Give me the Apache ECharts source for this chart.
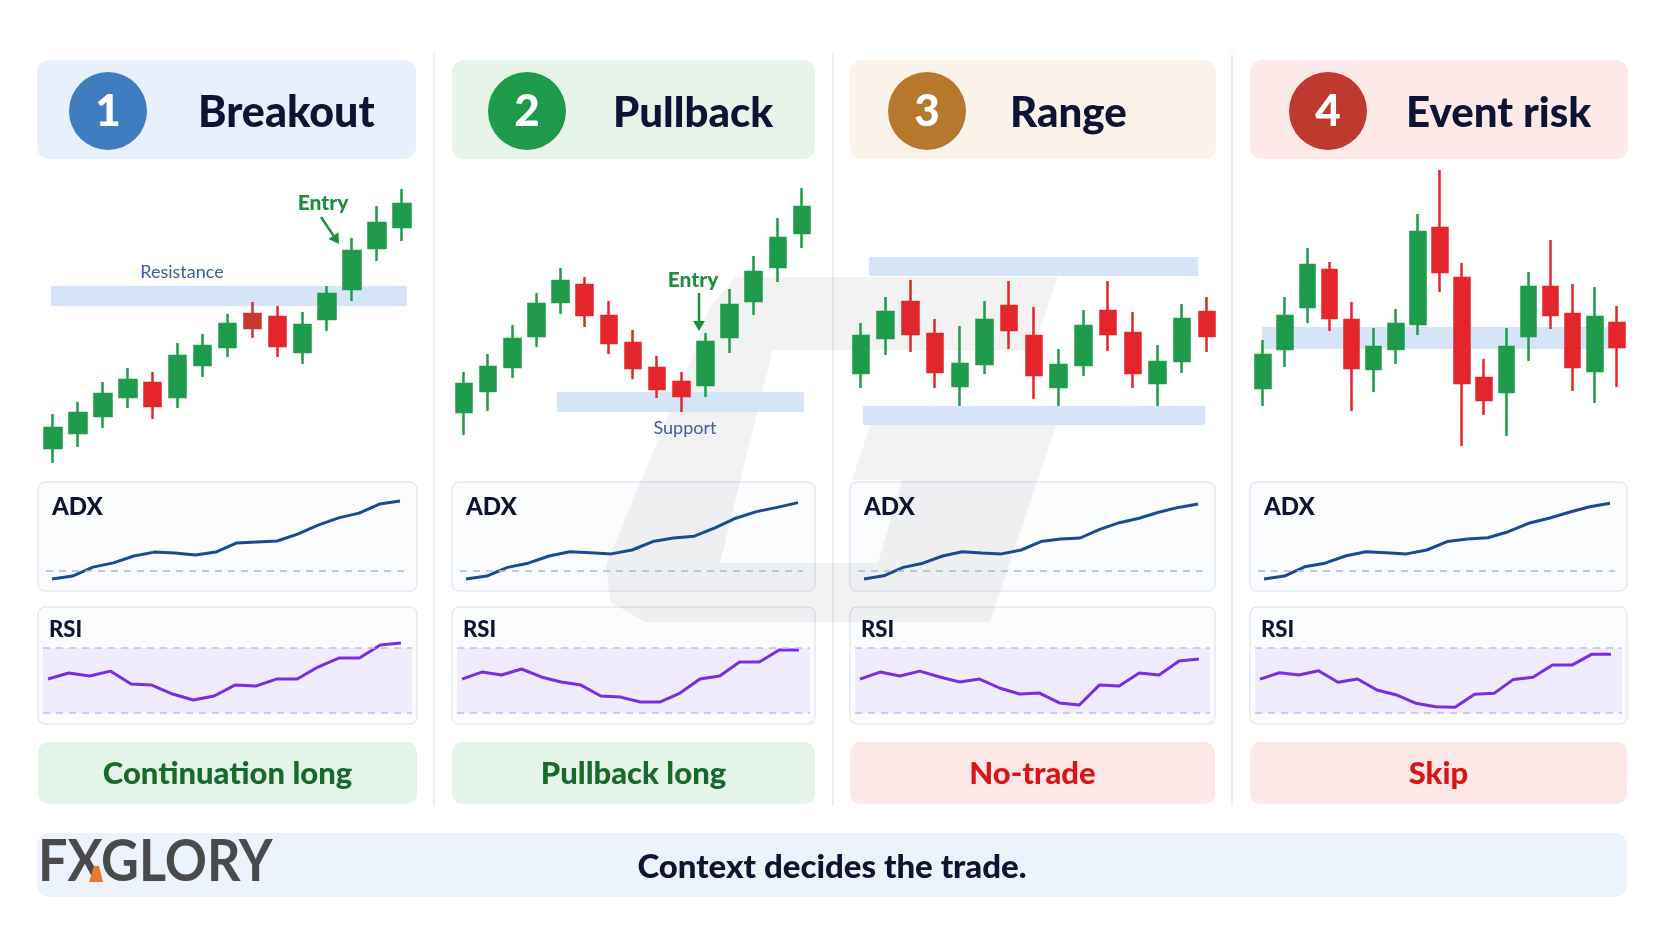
<!DOCTYPE html>
<html><head><meta charset="utf-8">
<script src="https://cdn.jsdelivr.net/npm/echarts@6/dist/echarts.min.js"></script>
<style>html,body{margin:0;padding:0;background:#fff}#c{width:1664px;height:928px}</style>
</head><body><div id="c"></div>
<script>
// ---------- DATA ----------
const panelNumbers = ['1', '2', '3', '4'];
const panelTitles = ['Breakout', 'Pullback', 'Range', 'Event risk'];
const verdicts = ['Continuation long', 'Pullback long', 'No-trade', 'Skip'];
const footerText = 'Context decides the trade.';
const brandText = 'FXGLORY';

// candles: [open, close, low, high]
const breakoutCandles = [
  [22,42,7,56],[37,57,23,68],[54,76,42,88],[73,90,62,102],[87,64,51,98],
  [73,114,62,127],[105,124,93,136],[123,146,113,156],[156,142,132,168],[153,124,113,164],
  [118,145,106,158],[151,176,139,184],[181,219,169,232],[222,247,209,264],[243,266,229,281]
];
const pullbackCandles = [
  [58,86,35,98],[79,103,59,116],[103,131,92,145],[134,166,123,177],[168,189,156,202],
  [185,155,143,193],[154,127,116,169],[127,102,91,140],[102,81,72,114],[88,74,58,98],
  [85,128,73,137],[133,165,117,181],[169,198,155,214],[203,232,188,252],[237,263,222,282]
];
const rangeCandles = [
  [97,134,82,147],[132,158,115,173],[168,136,118,190],[136,98,82,151],[84,106,64,144],
  [106,150,96,169],[164,140,121,189],[134,95,71,163],[83,105,64,121],[105,144,94,160],
  [159,136,119,189],[137,97,82,158],[87,108,64,125],[109,151,97,166],[158,134,118,173]
];
const eventCandles = [
  [82,115,64,130],[121,154,103,173],[163,205,147,222],[200,152,139,208],[150,102,59,168],
  [101,123,78,142],[121,146,106,161],[146,238,135,256],[242,198,178,300],[192,87,24,207],
  [92,70,55,111],[78,123,34,142],[134,183,109,198],[183,155,141,230],[156,103,79,186],
  [99,153,67,183],[147,123,83,164]
];
// zones: [fromIndex, toIndex, low, high]
const breakoutZones = [[-0.08, 14.2, 164, 184]];
const pullbackZones = [[3.85, 14.08, 58, 78]];
const rangeZones = [[0.33, 13.65, 194, 213], [0.08, 13.93, 45, 64]];
const eventZones = [[-0.05, 16.29, 121, 143]];

const adxBreakout = [22.3,23.3,26.3,27.7,30,31.3,31,30.3,31.3,34.3,34.7,35,37.3,40.3,42.7,44.3,47.3,48.3];
const adxPullback = [22.3,23.3,26.2,27.6,30,31.4,31.1,30.7,32,34.8,36,36.6,39.4,42.6,44.8,46.2,47.8];
const adxRange = [22.3,23.4,26.2,27.6,30,31.4,31,30.7,32,34.8,35.7,36,38.9,41.1,42.6,44.6,46.2,47.3];
const adxEvent = [22.3,23.3,26.4,27.6,30,31.4,31.1,30.7,32,34.8,35.7,36.1,38.1,40.9,42.6,44.6,46.4,47.6];

const rsiBreakout = [50.9,54.6,52.8,55.8,47.8,47.2,41.7,38,40.5,47.2,46.6,50.9,50.9,58.3,63.8,63.8,71.8,73.1];
const rsiPullback = [50.9,55.2,53.4,57.1,52.2,49.1,47.2,40.5,39.8,36.8,36.8,42.3,50.9,52.8,61.4,61.4,68.8,68.8];
const rsiRange = [50.9,55.2,52.8,55.8,52.2,49.1,50.9,45.4,41.7,42.3,36.2,34.9,47.2,46.6,54.6,53.4,62,63.2];
const rsiEvent = [50.9,54.8,53.4,56,48.9,50.9,44.2,41.1,36,33.9,33.5,41.5,42.1,50.7,52,59.5,59.5,66.1,66.1];

const adxThreshold = 25;
const rsiLevels = [30, 70];

// ---------- LAYOUT / STYLE ----------
const FONT = 'Lato, "Noto Sans", sans-serif';
const GREEN = '#1f9b4c', RED = '#e3262b';
const layout = [
  {L:38, R:417, hL:37, hR:416, cx:108, tx:198, ts:43, cl:40.5, cw:374, bw:17, hFill:'#e8f1fb', cFill:'#3f7cc0', vFill:'#e5f4e9', vColor:'#17692c', special:{8:'#c43a30'}},
  {L:452, R:815, hL:452, hR:815, cx:527, tx:613, ts:42, cl:452, cw:362, bw:16, hFill:'#e6f4ea', cFill:'#1e9a4b', vFill:'#e5f4e9', vColor:'#17692c'},
  {L:850, R:1215, hL:850, hR:1216, cx:927, tx:1010, ts:42, cl:848.6, cw:370.7, bw:16, hFill:'#fbf3ea', cFill:'#b5782c', vFill:'#fde8e8', vColor:'#d81414'},
  {L:1250, R:1627, hL:1250, hR:1628, cx:1328, tx:1406, ts:42, cl:1252, cw:376, bw:15, hFill:'#fce9e8', cFill:'#c0392f', vFill:'#fde8e8', vColor:'#d81414'}
];
const candleSets = [breakoutCandles, pullbackCandles, rangeCandles, eventCandles];
const zoneSets = [breakoutZones, pullbackZones, rangeZones, eventZones];
const adxSets = [adxBreakout, adxPullback, adxRange, adxEvent];
const rsiSets = [rsiBreakout, rsiPullback, rsiRange, rsiEvent];

const grids = [], xAxes = [], yAxes = [], series = [], graphics = [];

[434, 833, 1232].forEach(x => graphics.push({type:'line', shape:{x1:x, y1:53, x2:x, y2:806}, style:{stroke:'#e4e8ef', lineWidth:1.5}, z:0}));

layout.forEach((p, i) => {
  graphics.push({type:'rect', shape:{x:p.hL, y:60, width:p.hR-p.hL, height:99, r:12}, style:{fill:p.hFill}, z:0});
  graphics.push({type:'circle', shape:{cx:p.cx, cy:111, r:39}, style:{fill:p.cFill}, z:1});
  graphics.push({type:'text', x:p.cx, y:112, style:{text:panelNumbers[i], fill:'#fff', font:'900 44px ' + FONT, align:'center', verticalAlign:'middle'}, z:2});
  graphics.push({type:'text', x:p.tx, y:113, style:{text:panelTitles[i], fill:'#0d1333', font:'900 ' + p.ts + 'px ' + FONT, align:'left', verticalAlign:'middle'}, z:2});
  graphics.push({type:'rect', shape:{x:p.L, y:482, width:p.R-p.L, height:109, r:7}, style:{fill:'#fbfcfe', stroke:'#d6dfed', lineWidth:1}, z:0});
  graphics.push({type:'rect', shape:{x:p.L, y:607, width:p.R-p.L, height:117, r:7}, style:{fill:'#fbfcfe', stroke:'#d6dfed', lineWidth:1}, z:0});
  graphics.push({type:'text', x:p.L+14, y:507, style:{text:'ADX', fill:'#0d1333', font:'900 24px ' + FONT, verticalAlign:'middle'}, z:3});
  graphics.push({type:'text', x:p.L+11, y:630, style:{text:'RSI', fill:'#0d1333', font:'900 22px ' + FONT, verticalAlign:'middle'}, z:3});
  graphics.push({type:'rect', shape:{x:p.L, y:742, width:p.R-p.L, height:62, r:10}, style:{fill:p.vFill}, z:0});
  graphics.push({type:'text', x:(p.L+p.R)/2, y:774, style:{text:verdicts[i], fill:p.vColor, font:'900 31px ' + FONT, align:'center', verticalAlign:'middle'}, z:2});

  const candles = candleSets[i];
  const n = candles.length;
  const g0 = grids.length;
  grids.push({left:p.cl, top:170, width:p.cw, height:300});
  const adx = adxSets[i];
  const aGL = p.L + 8, aGR = p.R - 12, aS = p.L + 14, aE = p.R - 17;
  const aD = (aE - aS) / (adx.length - 1);
  grids.push({left:aGL, top:496, width:aGR-aGL, height:90});
  const rsi = rsiSets[i];
  const rGL = p.L + 5, rGR = p.R - 5, rS = p.L + 10, rE = p.R - 16;
  const rD = (rE - rS) / (rsi.length - 1);
  grids.push({left:rGL, top:639.9, width:rGR-rGL, height:81.25});

  const x0 = xAxes.length;
  xAxes.push({type:'category', gridIndex:g0, data:candles.map((_, k) => String(k + 1)), show:false, boundaryGap:true});
  xAxes.push({type:'value', gridIndex:g0, min:-0.5, max:n-0.5, show:false});
  xAxes.push({type:'value', gridIndex:g0+1, min:-(aS-aGL)/aD, max:(adx.length-1)+(aGR-aE)/aD, show:false});
  xAxes.push({type:'value', gridIndex:g0+2, min:-(rS-rGL)/rD, max:(rsi.length-1)+(rGR-rE)/rD, show:false});
  const y0 = yAxes.length;
  yAxes.push({type:'value', gridIndex:g0, min:0, max:300, show:false});
  yAxes.push({type:'value', gridIndex:g0+1, min:20, max:50, show:false});
  yAxes.push({type:'value', gridIndex:g0+2, min:25, max:75, show:false});

  series.push({
    type:'custom', xAxisIndex:x0+1, yAxisIndex:y0, z:2, clip:false, silent:true,
    data:zoneSets[i],
    renderItem:function(params, api){
      const a = api.coord([api.value(0), api.value(3)]);
      const b = api.coord([api.value(1), api.value(2)]);
      return {type:'rect', shape:{x:a[0], y:a[1], width:b[0]-a[0], height:b[1]-a[1]}, style:{fill:'#d0e1f5', opacity:0.9}};
    }
  });
  series.push({
    type:'candlestick', xAxisIndex:x0, yAxisIndex:y0, z:3, barWidth:p.bw,
    itemStyle:{color:GREEN, borderColor:GREEN, color0:RED, borderColor0:RED, borderWidth:2.5},
    data:candles.map((c, k) => (p.special && p.special[k]) ? {value:c, itemStyle:{color0:p.special[k], borderColor0:p.special[k]}} : c)
  });
  series.push({
    type:'line', xAxisIndex:x0+2, yAxisIndex:y0+1, z:3, showSymbol:false, silent:true,
    data:adx.map((v, k) => [k, v]),
    lineStyle:{color:'#1b4a92', width:3},
    markLine:{silent:true, symbol:'none', label:{show:false}, lineStyle:{color:'#a8bbd6', type:[7,6], width:1.5}, data:[{yAxis:adxThreshold}]}
  });
  series.push({
    type:'line', xAxisIndex:x0+3, yAxisIndex:y0+2, z:3, showSymbol:false, silent:true,
    data:rsi.map((v, k) => [k, v]),
    lineStyle:{color:'#7a2ee0', width:3},
    markArea:{silent:true, itemStyle:{color:'#f0ecfd'}, data:[[{yAxis:rsiLevels[0]}, {yAxis:rsiLevels[1]}]]},
    markLine:{silent:true, symbol:'none', label:{show:false}, lineStyle:{color:'#c7b8f1', type:[7,6], width:1.5}, data:rsiLevels.map(v => ({yAxis:v}))}
  });
});

// faint brand watermark
graphics.push({type:'polygon', shape:{points:[[735,277],[1058,277],[1033,350],[695,350],[708,310]]}, style:{fill:'#000', opacity:0.05}, z:1, silent:true});
graphics.push({type:'polygon', shape:{points:[[695,350],[773,350],[720,563],[878,563],[902,480],[852,480],[872,420],[1058,420],[990,622],[645,622],[610,602],[606,565]]}, style:{fill:'#000', opacity:0.05}, z:1, silent:true});

// annotations
function arrow(x1, y1, x2, y2, color){
  const dx = x2 - x1, dy = y2 - y1, len = Math.hypot(dx, dy);
  const ux = dx / len, uy = dy / len, hl = 10, hw = 6;
  const bx = x2 - ux * hl, by = y2 - uy * hl;
  graphics.push({type:'line', shape:{x1, y1, x2:bx, y2:by}, style:{stroke:color, lineWidth:2.5}, z:10});
  graphics.push({type:'polygon', shape:{points:[[x2, y2], [bx - uy*hw, by + ux*hw], [bx + uy*hw, by - ux*hw]]}, style:{fill:color}, z:10});
}
graphics.push({type:'text', x:323, y:203, style:{text:'Entry', fill:'#1e8e3e', font:'900 21px ' + FONT, align:'center', verticalAlign:'middle'}, z:10});
arrow(321, 217, 339, 244, '#1e8e3e');
graphics.push({type:'text', x:693, y:280, style:{text:'Entry', fill:'#1e8e3e', font:'900 21px ' + FONT, align:'center', verticalAlign:'middle'}, z:10});
arrow(699, 293, 699, 331, '#1e8e3e');
graphics.push({type:'text', x:182, y:272, style:{text:'Resistance', fill:'#3f5c9c', font:'18px ' + FONT, align:'center', verticalAlign:'middle'}, z:10});
graphics.push({type:'text', x:685, y:428, style:{text:'Support', fill:'#3f5c9c', font:'18px ' + FONT, align:'center', verticalAlign:'middle'}, z:10});

// footer
graphics.push({type:'rect', shape:{x:37, y:833, width:1590, height:64, r:12}, style:{fill:'#edf3fc'}, z:0});
graphics.push({type:'text', x:832, y:867, style:{text:footerText, fill:'#0d1333', font:'900 33px ' + FONT, align:'center', verticalAlign:'middle'}, z:2});
graphics.push({type:'text', x:38, y:862, scaleX:0.9, style:{text:brandText, fill:'#4a4a4c', font:'bold 58px ' + FONT, verticalAlign:'middle'}, z:2});
graphics.push({type:'polygon', shape:{points:[[94,866],[99,866],[103,882],[89,882]]}, style:{fill:'#e8782a'}, z:3});

const chart = echarts.init(document.getElementById('c'), null, {renderer:'canvas'});
chart.setOption({
  backgroundColor:'#ffffff',
  animation:false,
  grid:grids, xAxis:xAxes, yAxis:yAxes, series:series,
  graphic:{elements:graphics}
});
</script></body></html>
